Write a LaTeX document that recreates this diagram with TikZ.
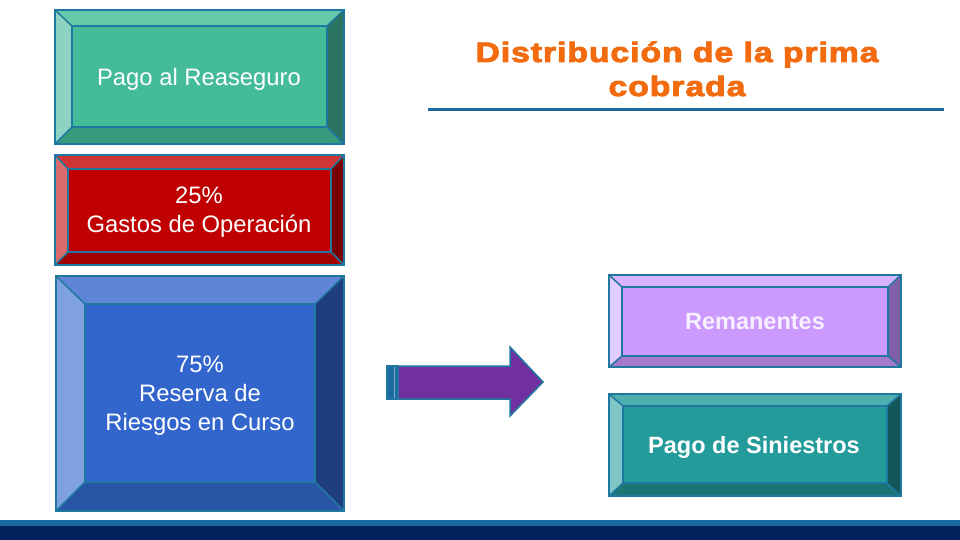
\documentclass[tikz,border=0pt]{standalone}
\usepackage{fontspec}
\setmainfont{Liberation Sans}
\newfontfamily\titlefont[FakeBold=3,LetterSpace=3]{Liberation Sans Bold}
\definecolor{edgeblue}{HTML}{1F78A0}
% teal box
\definecolor{tface}{HTML}{44BB99}\definecolor{ttop}{HTML}{66C9AA}\definecolor{tleft}{HTML}{8ED3C1}
\definecolor{tright}{HTML}{2B7462}\definecolor{tbot}{HTML}{389A7C}
% red box
\definecolor{rface}{HTML}{C00000}\definecolor{rtop}{HTML}{CF3535}\definecolor{rleft}{HTML}{DB6B6B}
\definecolor{rright}{HTML}{7A0000}\definecolor{rbot}{HTML}{A30000}
% blue box
\definecolor{bface}{HTML}{3366CC}\definecolor{btop}{HTML}{5F86D6}\definecolor{bleft}{HTML}{7FA1E0}
\definecolor{bright}{HTML}{1F3E7F}\definecolor{bbot}{HTML}{2A54A6}
% lavender box
\definecolor{lface}{HTML}{CC99FF}\definecolor{ltop}{HTML}{D9B3FF}\definecolor{lleft}{HTML}{E3CCFF}
\definecolor{lright}{HTML}{7F5FA8}\definecolor{lbot}{HTML}{A57ACC}
% dark teal box
\definecolor{sface}{HTML}{239B9B}\definecolor{stop}{HTML}{4DB0B0}\definecolor{sleft}{HTML}{80C6C6}
\definecolor{sright}{HTML}{125858}\definecolor{sbot}{HTML}{1B7575}
\definecolor{arrowpurple}{HTML}{7030A0}
\definecolor{titleorange}{HTML}{F26B0F}
\definecolor{rulecol}{HTML}{1F6A9A}
\definecolor{barlight}{HTML}{1A6BA0}
\definecolor{bardark}{HTML}{00235E}
\definecolor{lavtext}{HTML}{F6F0FF}
\newcommand\bevelbox[9]{%
  \fill[#9face] (#5,#6) rectangle (#7,#8);
  \fill[#9top] (#1,#2) -- (#3,#2) -- (#7,#6) -- (#5,#6) -- cycle;
  \fill[#9left] (#1,#2) -- (#5,#6) -- (#5,#8) -- (#1,#4) -- cycle;
  \fill[#9right] (#3,#2) -- (#3,#4) -- (#7,#8) -- (#7,#6) -- cycle;
  \fill[#9bot] (#1,#4) -- (#5,#8) -- (#7,#8) -- (#3,#4) -- cycle;
  \draw[boxedge] (#5,#6) rectangle (#7,#8);
  \draw[boxedge] (#1,#2) -- (#5,#6) (#3,#2) -- (#7,#6) (#3,#4) -- (#7,#8) (#1,#4) -- (#5,#8);
  \draw[boxedge, line width=2.2pt] (#1,#2) rectangle (#3,#4);
}
\tikzset{
  boxedge/.style={draw=edgeblue, line width=1.5pt, line join=miter},
  boxtext/.style={text=white, align=center, inner sep=0pt, font=\fontsize{23.8}{29}\selectfont},
  boldtext/.style={boxtext, font=\fontsize{23.5}{29}\selectfont\bfseries},
  titletext/.style={text=titleorange, anchor=base, inner sep=0pt, font=\fontsize{28}{33}\titlefont},
}
\begin{document}
\begin{tikzpicture}[x=1pt,y=-1pt]
\useasboundingbox (0,0) rectangle (960,540);
\fill[white] (0,0) rectangle (960,540);
% boxes
\bevelbox{55}{10}{344}{144}{72}{26}{327}{127}{t}
\bevelbox{55}{155}{344}{265}{68}{169}{331}{252}{r}
\bevelbox{56}{276}{344}{511}{85}{304}{315}{482}{b}
\bevelbox{609}{275}{901}{367}{622}{287}{888}{356}{l}
\bevelbox{609}{394}{901}{496}{623}{406}{887}{483}{s}
% texts
\node[boxtext] (reaseguro) at (199,79) {Pago al Reaseguro};
\node[boxtext] (gastos) at (199,212) {25\%\\Gastos de Operación};
\node[boxtext] (reserva) at (200,396) {75\%\\Reserva de\\Riesgos en Curso};
\node[boldtext, text=lavtext] (remanentes) at (755,322) {Remanentes};
\node[boldtext] (siniestros) at (754,447) {Pago de Siniestros};
% title
\node[titletext] (title1) at (677,62) {\scalebox{1.2}[1]{Distribución de la prima}};
\node[titletext] (title2) at (677,96) {\scalebox{1.2}[1]{cobrada}};
\draw[rulecol, line width=3pt] (428,110) -- (944,110);
% arrow
\filldraw[fill=arrowpurple, draw=edgeblue, line width=1.5pt, line join=miter]
  (387,366) -- (510,366) -- (510,347) -- (543,382) -- (510,416) -- (510,399) -- (387,399) -- cycle;
\fill[barlight] (387,366) rectangle (398,399);
\draw[edgeblue!60!white, line width=1pt] (394,366) -- (394,399);
\draw[edgeblue, line width=1.5pt] (387,366) rectangle (398,399);
% bottom bar
\fill[barlight] (0,520) rectangle (960,526);
\fill[bardark] (0,526) rectangle (960,540);
\end{tikzpicture}
\end{document}
